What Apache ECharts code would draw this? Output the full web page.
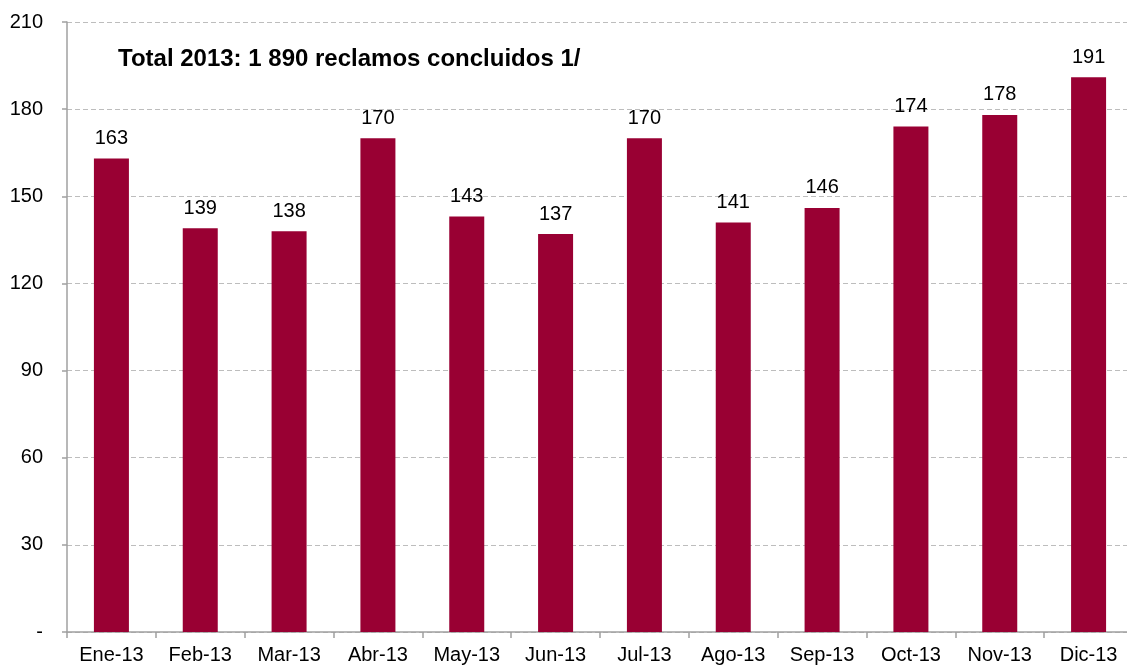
<!DOCTYPE html>
<html>

<head>
    <meta charset="utf-8">
    <title>Reclamos concluidos 2013</title>
    <script src="https://cdn.jsdelivr.net/npm/echarts@6/dist/echarts.min.js"></script>
    <style>
        html, body {
            margin: 0;
            padding: 0;
            background: #ffffff;
        }

        .chart {
            width: 1127px;
            height: 667px;
        }
    </style>
</head>

<body>
    <div id="main" class="chart"></div>

    <script type="text/javascript">
        var meses = ['Ene-13', 'Feb-13', 'Mar-13', 'Abr-13', 'May-13', 'Jun-13',
            'Jul-13', 'Ago-13', 'Sep-13', 'Oct-13', 'Nov-13', 'Dic-13'];
        var reclamos = [163, 139, 138, 170, 143, 137, 170, 141, 146, 174, 178, 191];
        var titulo = 'Total 2013: 1 890 reclamos concluidos 1/';

        var myChart = echarts.init(document.getElementById('main'));

        var option = {
            animation: false,
            textStyle: {
                fontFamily: 'Liberation Sans, Arial, sans-serif'
            },
            title: {
                text: titulo,
                left: 113,
                top: 42,
                textStyle: {
                    fontSize: 24,
                    fontWeight: 'bold',
                    color: '#000'
                }
            },
            grid: {
                left: 67,
                top: 22,
                width: 1066,
                bottom: 35,
                containLabel: false,
                outerBoundsMode: 'none'
            },
            xAxis: {
                type: 'category',
                data: meses,
                axisLine: {
                    lineStyle: { color: '#a0a0a0', width: 1.5 }
                },
                axisTick: {
                    show: true,
                    length: 6,
                    lineStyle: { color: '#a0a0a0', width: 1.5 }
                },
                axisLabel: {
                    color: '#000',
                    fontSize: 20,
                    margin: 13
                }
            },
            yAxis: {
                type: 'value',
                min: 0,
                max: 210,
                interval: 30,
                axisLine: {
                    show: true,
                    lineStyle: { color: '#a0a0a0', width: 1.5 }
                },
                axisTick: {
                    show: true,
                    length: 5,
                    lineStyle: { color: '#a0a0a0', width: 1.5 }
                },
                axisLabel: {
                    color: '#000',
                    fontSize: 20,
                    margin: 24,
                    formatter: function (v) {
                        return v === 0 ? '-' : v;
                    }
                },
                splitLine: {
                    lineStyle: { color: '#bdbdbd', type: [5, 3], width: 1 }
                }
            },
            series: [{
                name: 'Reclamos',
                type: 'bar',
                data: reclamos,
                barWidth: 35,
                itemStyle: { color: '#990033' },
                label: {
                    show: true,
                    position: 'top',
                    distance: 10,
                    color: '#000',
                    fontSize: 20
                }
            }]
        };

        myChart.setOption(option);
    </script>
</body>

</html>
